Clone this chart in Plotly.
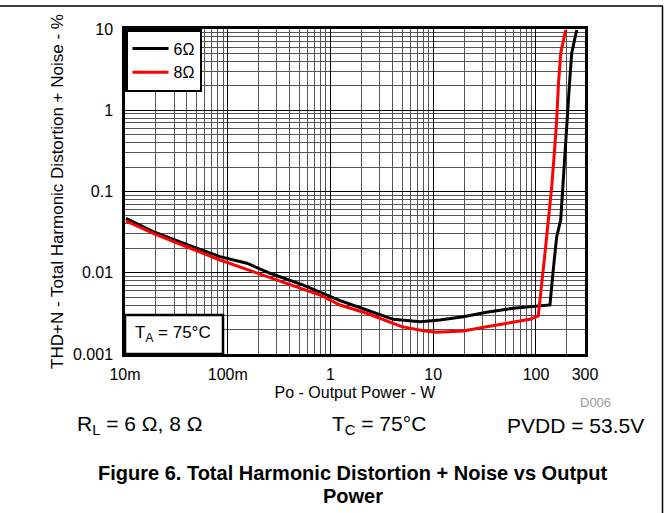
import plotly.graph_objects as go

# ---- data ----
p_6ohm = [0.0102, 0.0188, 0.0398, 0.0841, 0.153, 0.258, 0.543, 1.24, 2.25, 4.08, 7.43, 11.6,
          19.6, 33.1, 60.1, 101.6, 136.8, 147.2, 159.1, 174, 182, 191.6, 201.7, 211, 222.5, 249]
thd_6ohm = [0.0468, 0.032, 0.0224, 0.0158, 0.0131, 0.00985, 0.00706, 0.00453, 0.00348, 0.00267,
            0.0025, 0.00262, 0.00288, 0.00326, 0.00365, 0.00393, 0.00401, 0.0108, 0.0278, 0.0446,
            0.115, 0.295, 0.759, 1.95, 5.02, 9.72]

p_8ohm = [0.0102, 0.0188, 0.0398, 0.0841, 0.177, 0.375, 0.791, 1.24, 2.25, 4.93, 8.32, 10.8,
          19.6, 33.1, 51.9, 87.5, 105.2, 113.5, 122.3, 131.9, 142.3, 150.8, 159.1, 164.9, 174, 194.5]
thd_8ohm = [0.0434, 0.0306, 0.0209, 0.01435, 0.0103, 0.00741, 0.00532, 0.00401, 0.00317, 0.00217,
            0.00192, 0.00185, 0.00192, 0.00217, 0.00239, 0.00267, 0.00294, 0.00673, 0.0173, 0.0446,
            0.115, 0.295, 0.759, 1.95, 5.02, 9.72]

x_tickvals = [0.01, 0.1, 1, 10, 100, 300]
x_ticktext = ["10m", "100m", "1", "10", "100", "300"]
y_tickvals = [0.001, 0.01, 0.1, 1, 10]
y_ticktext = ["0.001", "0.01", "0.1", "1", "10"]

series_names = ["6\u03a9", "8\u03a9"]
series_colors = ["#000000", "#ff0000"]

FONT = "Arial, Liberation Sans, sans-serif"

# ---- layout geometry (pixels) ----
W, H = 665, 513
L, R, T, B = 125, 80, 29, 159
PW, PH = W - L - R, H - T - B


def xp(px):
    return (px - L) / PW


def yp(py):
    return (H - B - py) / PH


x_minor = [m * 10 ** e for e in range(-2, 3) for m in range(2, 10) if m * 10 ** e < 300]
y_minor = [m * 10 ** e for e in range(-3, 1) for m in range(2, 10)]

fig = go.Figure()
fig.add_trace(go.Scatter(x=p_6ohm, y=thd_6ohm, mode="lines", name=series_names[0],
                         line=dict(color=series_colors[0], width=3)))
fig.add_trace(go.Scatter(x=p_8ohm, y=thd_8ohm, mode="lines", name=series_names[1],
                         line=dict(color=series_colors[1], width=3)))

axis_common = dict(
    showline=True, linecolor="black", linewidth=2.5, mirror=True,
    gridcolor="black", gridwidth=1, zeroline=False, ticks="",
    tickfont=dict(family=FONT, size=16, color="black"),
)

fig.update_xaxes(type="log", range=[-2, 2.4771], tickmode="array",
                 tickvals=x_tickvals, ticktext=x_ticktext,
                 minor=dict(tickmode="array", tickvals=x_minor, showgrid=True,
                            gridcolor="#555555", gridwidth=1, ticks=""),
                 title_text="Po - Output Power - W", title_standoff=5,
                 title_font=dict(family=FONT, size=16, color="black"),
                 ticklabelstandoff=4, **axis_common)
fig.update_yaxes(type="log", range=[-3, 1], tickmode="array",
                 tickvals=y_tickvals, ticktext=y_ticktext,
                 minor=dict(tickmode="array", tickvals=y_minor, showgrid=True,
                            gridcolor="#555555", gridwidth=1, ticks=""),
                 title_text="THD+N - Total Harmonic Distortion + Noise - %", title_standoff=6,
                 title_font=dict(family=FONT, size=17, color="black"),
                 ticklabelstandoff=6, **axis_common)

shapes = [
    # T_A box
    dict(type="rect", xref="paper", yref="paper", x0=xp(125), x1=xp(223), y0=yp(354), y1=yp(315),
         fillcolor="white", line=dict(color="black", width=2.5), layer="above"),
    # page frame lines
    dict(type="line", xref="paper", yref="paper", x0=xp(0), x1=xp(663), y0=yp(6), y1=yp(6),
         line=dict(color="black", width=1.5)),
    dict(type="line", xref="paper", yref="paper", x0=xp(662.5), x1=xp(662.5), y0=yp(6), y1=yp(513),
         line=dict(color="black", width=1.5)),
]

annotations = [
    dict(text="T<sub>A</sub> = 75\u00b0C", x=xp(133), y=yp(334), xanchor="left", yanchor="middle",
         font=dict(family=FONT, size=17, color="black")),
    dict(text="D006", x=xp(578), y=yp(402), xanchor="left", yanchor="middle",
         font=dict(family=FONT, size=13, color="#9a9a9a")),
    dict(text="R<sub>L</sub> = 6 \u03a9, 8 \u03a9", x=xp(75), y=yp(425), xanchor="left", yanchor="middle",
         font=dict(family=FONT, size=21, color="black")),
    dict(text="T<sub>C</sub> = 75\u00b0C", x=xp(330), y=yp(425), xanchor="left", yanchor="middle",
         font=dict(family=FONT, size=21, color="black")),
    dict(text="PVDD = 53.5V", x=xp(646), y=yp(425), xanchor="right", yanchor="middle",
         font=dict(family=FONT, size=21, color="black")),
    dict(text="<b>Figure 6. Total Harmonic Distortion + Noise vs Output</b>",
         x=xp(352), y=yp(473), xanchor="center", yanchor="middle",
         font=dict(family=FONT, size=20, color="black")),
    dict(text="<b>Power</b>",
         x=xp(353), y=yp(496), xanchor="center", yanchor="middle",
         font=dict(family=FONT, size=20, color="black")),
]
for a in annotations:
    a.update(xref="paper", yref="paper", showarrow=False)

fig.update_layout(
    width=W, height=H,
    margin=dict(l=L, r=R, t=T, b=B, pad=0),
    paper_bgcolor="white", plot_bgcolor="white",
    font=dict(family=FONT, size=16, color="black"),
    showlegend=True,
    legend=dict(x=0, y=1, xanchor="left", yanchor="top", bgcolor="white",
                bordercolor="black", borderwidth=2.5, itemwidth=36,
                font=dict(family=FONT, size=16, color="black"), tracegroupgap=0),
    shapes=shapes,
    annotations=annotations,
)

fig.write_html("out.html")
